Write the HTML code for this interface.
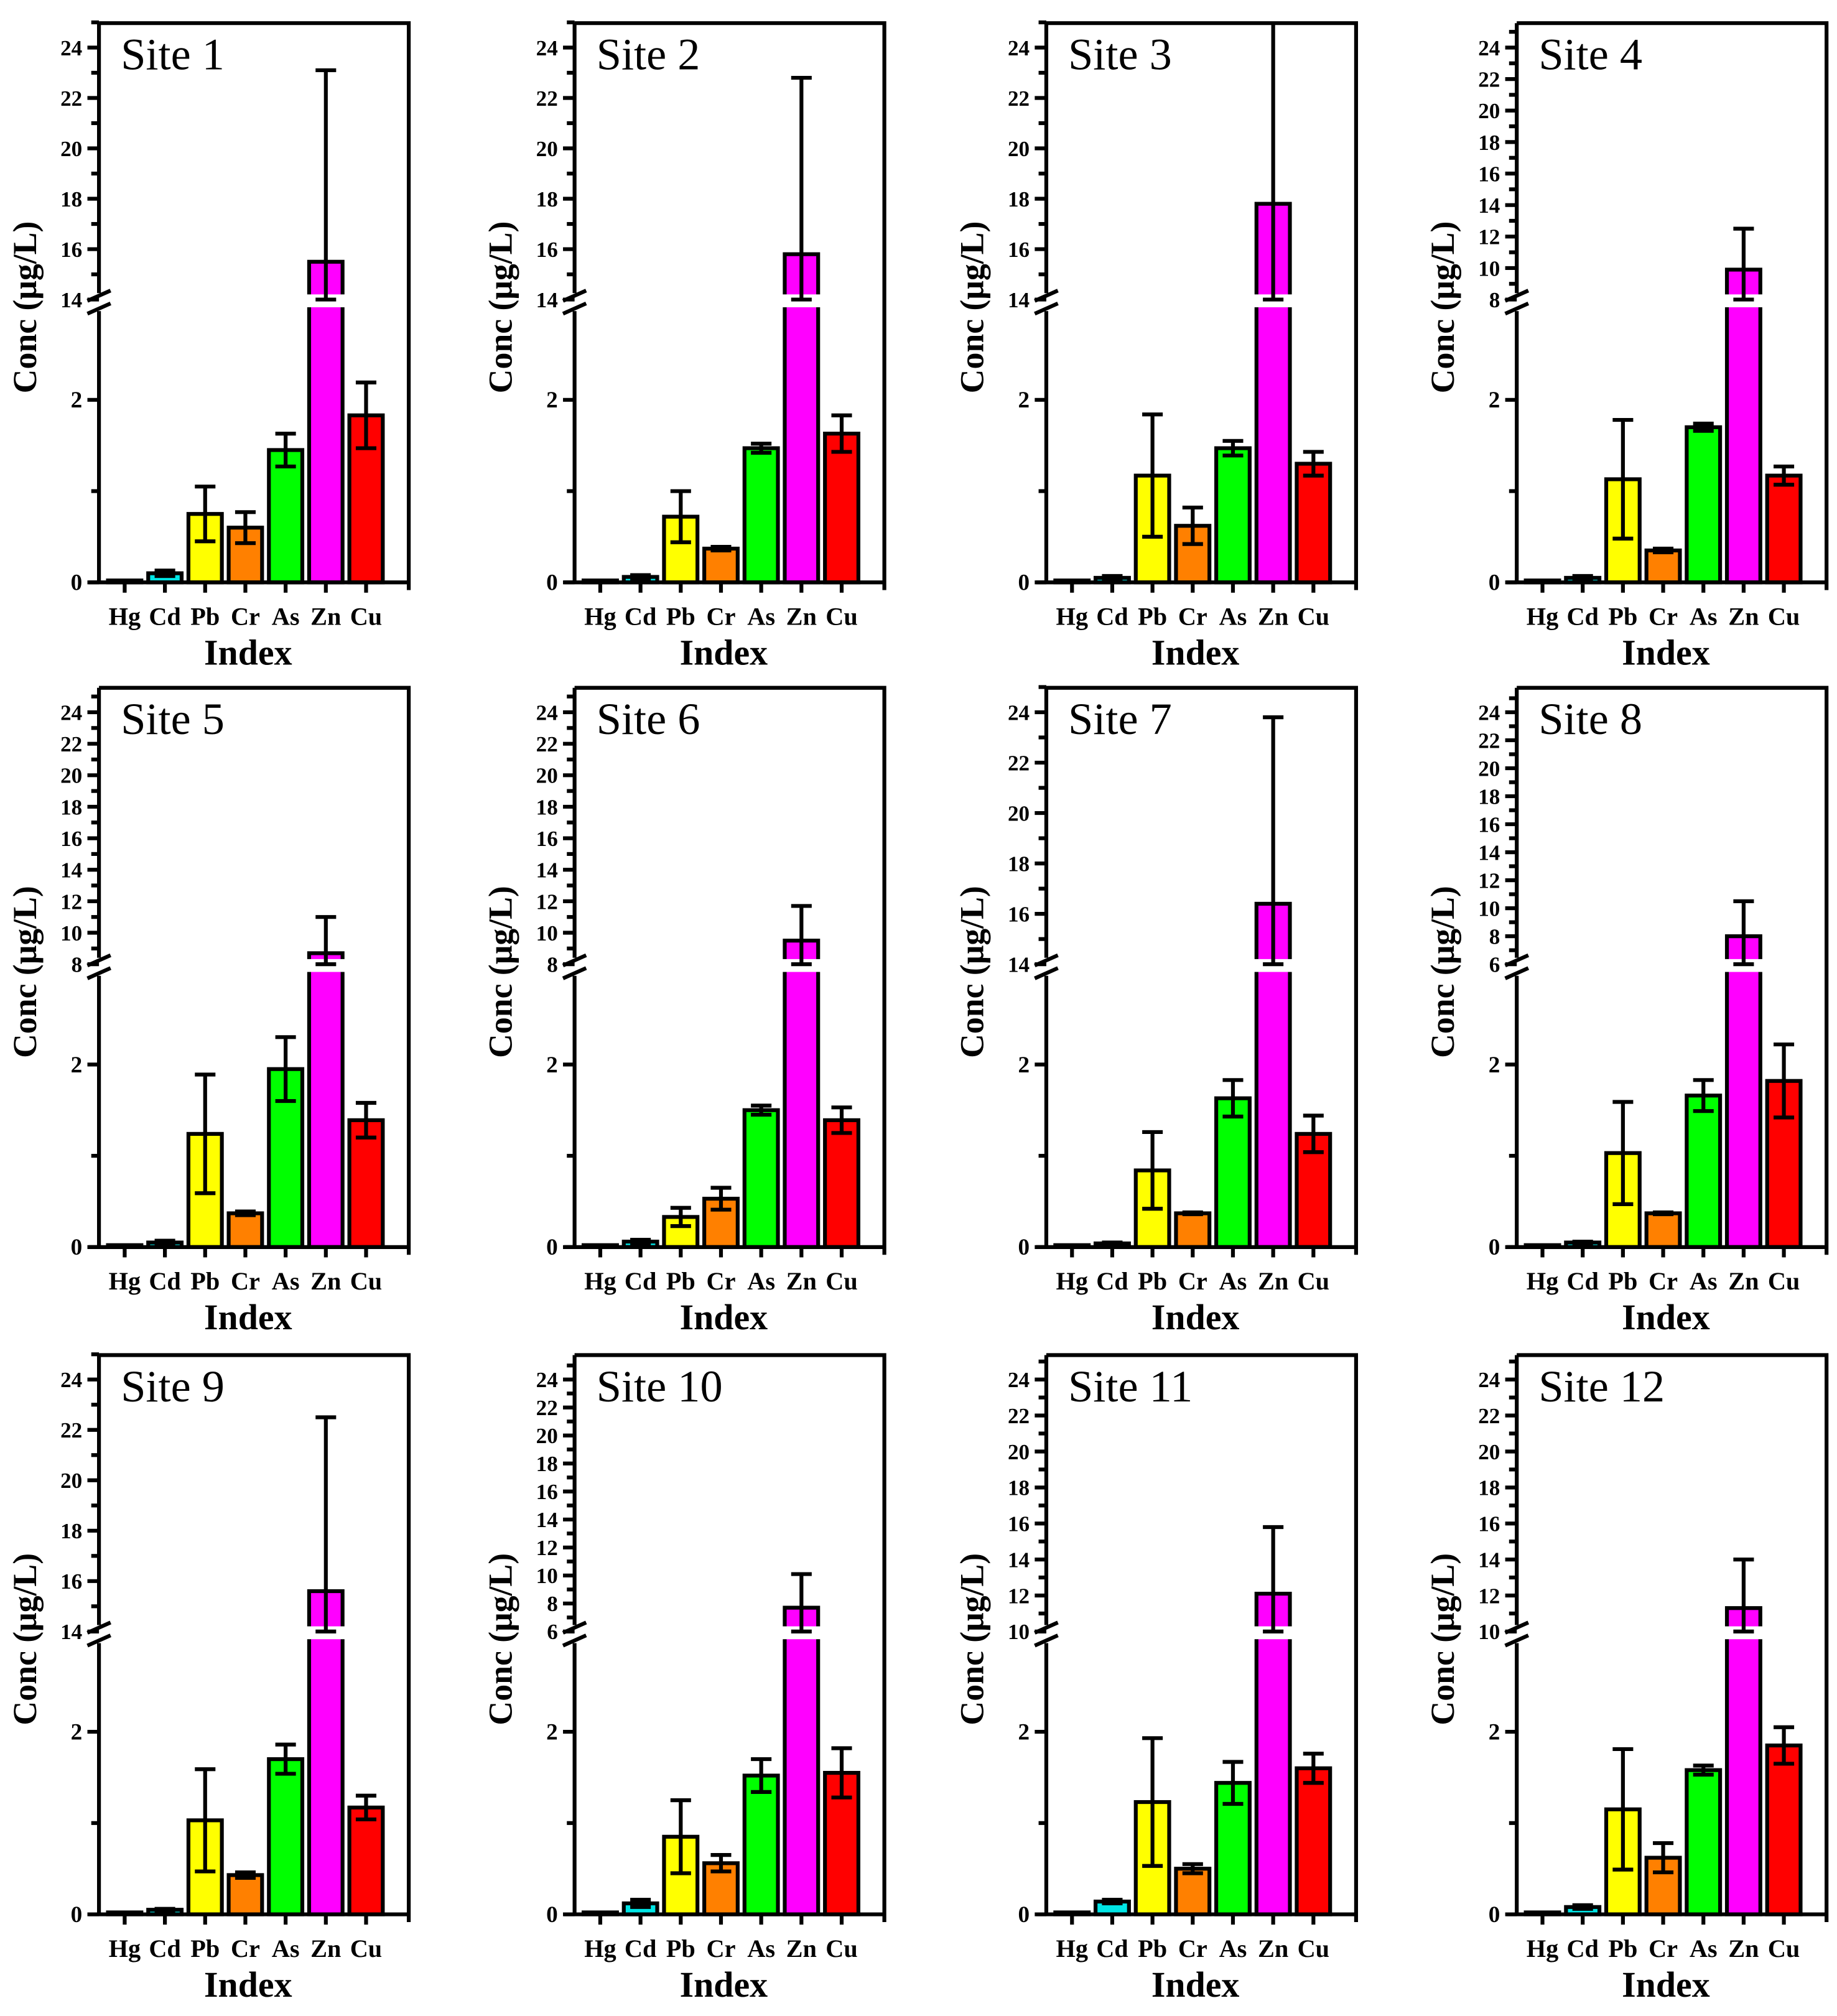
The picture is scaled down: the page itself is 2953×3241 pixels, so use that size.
<!DOCTYPE html>
<html><head><meta charset="utf-8"><style>
html,body{margin:0;padding:0;background:#fff;}
svg{display:block;}
text{font-family:"Liberation Serif",serif;}
</style></head><body>
<svg id="fig" width="2953" height="3241" viewBox="0 0 1440 1580" preserveAspectRatio="none" xmlns="http://www.w3.org/2000/svg"><g id="root" transform="scale(1.0076)"></g></svg>
<script>
const categories = ["Hg","Cd","Pb","Cr","As","Zn","Cu"];
const colors = ["#2a2a2a","#00e5e5","#ffff00","#ff8000","#00ff00","#ff00ff","#ff0000"];
const siteNames = ["Site 1","Site 2","Site 3","Site 4","Site 5","Site 6","Site 7","Site 8","Site 9","Site 10","Site 11","Site 12"];
const siteMeans = [
 [0.01,0.10,0.75,0.60,1.45,15.5,1.83],
 [0.01,0.06,0.72,0.37,1.47,15.8,1.63],
 [0.01,0.05,1.17,0.62,1.47,17.8,1.30],
 [0.01,0.05,1.13,0.35,1.70,9.9,1.17],
 [0.02,0.05,1.24,0.37,1.95,8.7,1.39],
 [0.01,0.06,0.33,0.53,1.50,9.5,1.39],
 [0.01,0.04,0.84,0.37,1.63,16.4,1.24],
 [0.01,0.05,1.03,0.37,1.66,8.0,1.82],
 [0.02,0.05,1.03,0.43,1.70,15.6,1.17],
 [0.02,0.12,0.85,0.56,1.52,7.7,1.55],
 [0.02,0.14,1.23,0.50,1.44,12.1,1.60],
 [0.01,0.08,1.15,0.62,1.58,11.3,1.85]
];
const siteErrors = [
 [0,0.03,0.30,0.17,0.18,7.6,0.36],
 [0,0.02,0.28,0.02,0.05,7.0,0.20],
 [0,0.02,0.67,0.20,0.08,8.0,0.13],
 [0,0.02,0.65,0.02,0.04,2.6,0.10],
 [0,0.02,0.65,0.02,0.35,2.3,0.19],
 [0,0.02,0.10,0.12,0.05,2.2,0.14],
 [0,0.01,0.42,0.01,0.20,7.4,0.20],
 [0,0.01,0.56,0.01,0.17,2.5,0.40],
 [0,0.01,0.56,0.03,0.16,6.9,0.13],
 [0,0.04,0.40,0.09,0.18,2.4,0.27],
 [0,0.02,0.70,0.05,0.23,3.7,0.16],
 [0,0.02,0.66,0.16,0.05,2.7,0.20]
];
const upperLow = [14,14,14,8,8,8,14,6,14,6,10,10];
const lowerTicks = [0,2];

const NS="http://www.w3.org/2000/svg";
const svg=document.getElementById('root');
function mk(tag,attrs,parent){const e=document.createElementNS(NS,tag);for(const k in attrs)e.setAttribute(k,attrs[k]);(parent||svg).appendChild(e);return e;}
const colX=[77,447,814,1180], rowZero=[453,970,1489], W=241;

for(let s=0;s<12;s++){
  const L=colX[s%4], Z=rowZero[Math.floor(s/4)], T=Z-435, R=L+W;
  const g=mk('g',{});
  
  
  const lo=upperLow[s];
  const yLow=v=>Z-v*71;
  const yUp=v=>(Z-220)-(v-lo)*(196/(24-lo));
  const yv=v=>v<=2.9?yLow(v):yUp(Math.max(v,lo));
  const xc=i=>L+20+i*31.3;
  categories.forEach((c,i)=>{
    const m=siteMeans[s][i], e=siteErrors[s][i], x=xc(i)-13;
    const bg=mk('g',{},g);
    
    
    if(m>2.9){
      const top=yUp(m);
      mk('rect',{x:x,y:top,width:26,height:Z-top,fill:colors[i],stroke:'#000','stroke-width':3},bg);
      mk('rect',{x:x-2,y:Z-224,width:30,height:10,fill:'#fff'},bg);
    } else {
      const h=Math.max(m*71,1.5);
      mk('rect',{x:x,y:Z-h,width:26,height:h,fill:colors[i],stroke:'#000','stroke-width':3},bg);
    }
    if(e>0){
      const yt=Math.max(yv(m+e),T), yb=yv(m-e);
      mk('line',{x1:xc(i),x2:xc(i),y1:yt,y2:yb,stroke:'#000','stroke-width':3},bg);
      if(yv(m+e)>=T) mk('line',{x1:xc(i)-8,x2:xc(i)+8,y1:yt,y2:yt,stroke:'#000','stroke-width':3},bg);
      mk('line',{x1:xc(i)-8,x2:xc(i)+8,y1:yb,y2:yb,stroke:'#000','stroke-width':3},bg);
    }
  });
  const fr=mk('path',{d:`M${L},${T} H${R} V${Z+6} M${L-8},${Z} H${R}`,fill:'none',stroke:'#000','stroke-width':3},g);
   
  const ax=mk('path',{d:`M${L},${Z} V${Z-211} M${L},${Z-225} V${T} M${L-9},${Z-209} L${L+9},${Z-217} M${L-9},${Z-219} L${L+9},${Z-227}`,fill:'none',stroke:'#000','stroke-width':3},g);
   
  for(let v=0;v<=2;v++){mk('line',{x1:L-(v%2?6:9),x2:L,y1:yLow(v),y2:yLow(v),stroke:'#000','stroke-width':3},g);}
  lowerTicks.forEach(v=>{const t=mk('text',{x:L-13,y:yLow(v)+6,'text-anchor':'end','font-size':18,'font-weight':'bold'},g);t.textContent=v;
     });
  for(let v=lo;v<=25;v++){const y=yUp(v); if(y<T-1)break;
    mk('line',{x1:L-(v%2?6:9),x2:L,y1:y,y2:y,stroke:'#000','stroke-width':3},g);
    if(v%2===0&&v<=24){const t=mk('text',{x:L-13,y:y+6,'text-anchor':'end','font-size':17,'font-weight':'bold'},g);t.textContent=v;
       }}
  categories.forEach((c,i)=>{
    mk('line',{x1:xc(i),x2:xc(i),y1:Z,y2:Z+8,stroke:'#000','stroke-width':3},g);
    const t=mk('text',{x:xc(i),y:Z+33,'text-anchor':'middle','font-size':19.5,'font-weight':'bold'},g);t.textContent=c;
     
  });
  const it=mk('text',{x:L+116,y:Z+64,'text-anchor':'middle','font-size':28,'font-weight':'bold'},g);it.textContent='Index';
   
  const yt=mk('text',{x:0,y:0,'text-anchor':'middle','font-size':26,'font-weight':'bold',transform:`translate(${L-49},${Z-214}) rotate(-90)`},g);yt.textContent='Conc (μg/L)';
   
  const st=mk('text',{x:L+17,y:T+36,'font-size':35},g);st.textContent=siteNames[s];
   
}
</script>
</body></html>
